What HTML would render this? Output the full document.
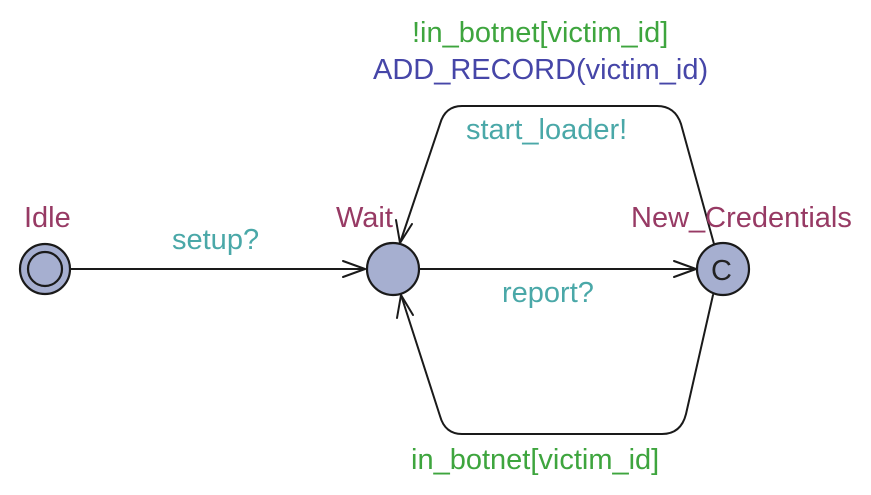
<!DOCTYPE html>
<html><head><meta charset="utf-8"><style>
html,body{margin:0;padding:0;background:#fff;}
svg text{font-family:"Liberation Sans","DejaVu Sans",sans-serif;font-size:29px;}
</style></head><body>
<svg width="871" height="490" viewBox="0 0 871 490" xmlns="http://www.w3.org/2000/svg">
<g fill="none" stroke="#1a1a1a" stroke-width="2" stroke-linecap="round" stroke-linejoin="round">
  <line x1="71" y1="269" x2="365" y2="269"/>
  <polyline points="343,261 365,269 343,277"/>
  <line x1="419" y1="269" x2="695" y2="269"/>
  <polyline points="674,261 696,269 674,277"/>
  <path d="M714,244 L681,124 Q675,106 657,106 L462,106 Q445,106 440,124 L400,243"/>
  <polyline points="396,220 400,243 412,224"/>
  <path d="M713,295 L686,414 Q681,434 662,434 L462,434 Q445,434 440,416 L401,295"/>
  <polyline points="397,318 401,295 413,315"/>
</g>
<g fill="#a6afd0" stroke="#1a1a1a" stroke-width="2.2">
  <circle cx="45" cy="269" r="25"/>
  <circle cx="45" cy="269" r="17"/>
  <circle cx="393" cy="269" r="26"/>
  <circle cx="723" cy="269" r="26"/>
</g>
<text x="711" y="280" fill="#222" font-size="29">C</text>
<g fill="#973a64">
  <text x="24" y="227">Idle</text>
  <text x="336" y="227">Wait</text>
  <text x="631" y="227">New_Credentials</text>
</g>
<g fill="#4aa8a8">
  <text x="172" y="249">setup?</text>
  <text x="502" y="302">report?</text>
  <text x="466" y="139">start_loader!</text>
</g>
<g fill="#3ea53e">
  <text x="412" y="42">!in_botnet[victim_id]</text>
  <text x="411" y="469">in_botnet[victim_id]</text>
</g>
<text x="373" y="79" fill="#4646a8">ADD_RECORD(victim_id)</text>
</svg>
</body></html>
